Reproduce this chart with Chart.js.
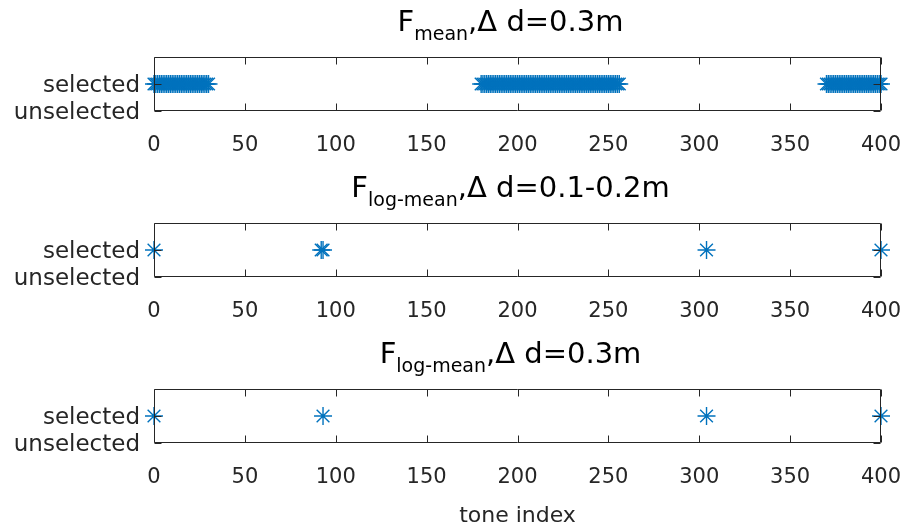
<!DOCTYPE html>
<html>
<head>
<meta charset="utf-8">
<script src="https://cdn.jsdelivr.net/npm/chart.js@4/dist/chart.umd.min.js"></script>
<style>
  html, body { margin: 0; padding: 0; background: #ffffff; }
  #wrap { position: relative; width: 907px; height: 529px; overflow: hidden; }
  #wrap canvas { position: absolute; left: 0; top: 0; }
</style>
</head>
<body>
<div id="wrap">
  <canvas id="panel1" width="907" height="529"></canvas>
  <canvas id="panel2" width="907" height="529"></canvas>
  <canvas id="panel3" width="907" height="529"></canvas>
</div>
<script>
// ---- data ----
const toneTicks = [0, 50, 100, 150, 200, 250, 300, 350, 400];
const selectionLabels = ['unselected', 'selected'];

// tone indices selected by F_mean, Δd = 0.3 m
const meanSelected = [
  0, 1, 2, 3, 4, 5, 6, 7, 8, 9, 10, 11, 12, 13, 14, 15, 16, 17, 18, 19, 20,
  21, 22, 23, 24, 25, 26, 27, 28, 29, 30,
  180, 181, 182, 183, 184, 185, 186, 187, 188, 189, 190, 191, 192, 193, 194,
  195, 196, 197, 198, 199, 200, 201, 202, 203, 204, 205, 206, 207, 208, 209,
  210, 211, 212, 213, 214, 215, 216, 217, 218, 219, 220, 221, 222, 223, 224,
  225, 226, 227, 228, 229, 230, 231, 232, 233, 234, 235, 236, 237, 238, 239,
  240, 241, 242, 243, 244, 245, 246, 247, 248, 249, 250, 251, 252, 253, 254,
  255, 256,
  370, 371, 372, 373, 374, 375, 376, 377, 378, 379, 380, 381, 382, 383, 384,
  385, 386, 387, 388, 389, 390, 391, 392, 393, 394, 395, 396, 397, 398, 399, 400
];
// tone indices selected by F_log-mean, Δd = 0.1-0.2 m
const logMeanNearSelected = [0, 92, 93, 304, 400];
// tone indices selected by F_log-mean, Δd = 0.3 m
const logMeanFarSelected = [0, 93, 304, 400];

const panelTitles = [
  { main: 'F', sub: 'mean', rest: ',\u0394 d=0.3m' },
  { main: 'F', sub: 'log-mean', rest: ',\u0394 d=0.1-0.2m' },
  { main: 'F', sub: 'log-mean', rest: ',\u0394 d=0.3m' }
];
const xAxisTitle = 'tone index';

// ---- style ----
const FONT = 'DejaVu Sans';
const AXIS_COLOR = '#262626';
const MARK_COLOR = '#0072BD';
const W = 907, H = 529;
const PLOT_LEFT = 154, PLOT_RIGHT = 881;
const TICK_LEN = 7;

// frame + inward ticks, drawn over the markers
const framePlugin = {
  id: 'frame',
  afterDatasetsDraw(chart) {
    const { ctx, chartArea: a, scales: { x, y } } = chart;
    const l = Math.round(a.left) + 0.5, r = Math.round(a.right) - 0.5;
    const t = Math.round(a.top) + 0.5, b = Math.round(a.bottom) - 0.5;
    ctx.save();
    ctx.strokeStyle = AXIS_COLOR;
    ctx.lineWidth = 1;
    ctx.beginPath();
    x.ticks.forEach(tk => {
      const px = Math.round(x.getPixelForValue(tk.value)) + 0.5;
      ctx.moveTo(px, b); ctx.lineTo(px, b - TICK_LEN);
      ctx.moveTo(px, t); ctx.lineTo(px, t + TICK_LEN);
    });
    y.ticks.forEach(tk => {
      const py = Math.round(y.getPixelForValue(tk.value)) + 0.5;
      ctx.moveTo(l, py); ctx.lineTo(l + TICK_LEN, py);
      ctx.moveTo(r, py); ctx.lineTo(r - TICK_LEN, py);
    });
    ctx.stroke();
    ctx.beginPath();
    ctx.rect(l, t, r - l, b - t);
    ctx.stroke();
    ctx.restore();
  }
};

// panel title with a subscript part
const subTitlePlugin = {
  id: 'subTitle',
  afterDraw(chart, args, opts) {
    const { ctx, chartArea: a } = chart;
    const tt = opts.text;
    if (!tt) return;
    const mainFont = '29px "' + FONT + '"';
    const subFont = '19px "' + FONT + '"';
    ctx.save();
    ctx.fillStyle = '#000000';
    ctx.textBaseline = 'alphabetic';
    ctx.textAlign = 'left';
    ctx.font = mainFont;
    const wMain = ctx.measureText(tt.main).width;
    const wRest = ctx.measureText(tt.rest).width;
    ctx.font = subFont;
    const wSub = ctx.measureText(tt.sub).width;
    const total = wMain + wSub + wRest;
    let x0 = (a.left + a.right) / 2 - total / 2 - 7;
    const base = a.top - 26;
    ctx.font = mainFont;
    ctx.fillText(tt.main, x0, base);
    ctx.font = subFont;
    ctx.fillText(tt.sub, x0 + wMain, base + 9);
    ctx.font = mainFont;
    ctx.fillText(tt.rest, x0 + wMain + wSub, base);
    if (opts.xTitle) {
      ctx.fillStyle = AXIS_COLOR;
      ctx.font = '22px "' + FONT + '"';
      ctx.textAlign = 'center';
      ctx.textBaseline = 'middle';
      ctx.fillText(opts.xTitle, (a.left + a.right) / 2, a.bottom + 73);
    }
    ctx.restore();
  }
};

function makePanel(id, indices, title, top, bottom, xTitle) {
  return new Chart(document.getElementById(id), {
    type: 'scatter',
    data: {
      datasets: [{
        data: indices.map(v => ({ x: v, y: 1 })),
        pointStyle: 'star',
        pointRadius: 9,
        pointBorderWidth: 1.4,
        borderColor: MARK_COLOR,
        backgroundColor: MARK_COLOR,
        showLine: false,
        clip: false
      }]
    },
    options: {
      responsive: false,
      animation: false,
      devicePixelRatio: 1,
      events: [],
      layout: { padding: { top: top, left: 0, right: W - PLOT_RIGHT, bottom: 0 } },
      plugins: {
        legend: { display: false },
        tooltip: { enabled: false },
        title: { display: false },
        subTitle: { text: title, xTitle: xTitle }
      },
      scales: {
        x: {
          type: 'linear',
          min: 0, max: 400,
          grid: { display: false },
          border: { display: false },
          afterBuildTicks: s => { s.ticks = toneTicks.map(v => ({ value: v })); },
          ticks: {
            autoSkip: false,
            maxRotation: 0,
            color: AXIS_COLOR,
            font: { family: FONT, size: 21 },
            padding: 14
          },
          afterFit: s => { s.height = H - bottom; s.paddingLeft = 0; s.paddingRight = 0; }
        },
        y: {
          type: 'linear',
          min: 0, max: 2,
          grid: { display: false },
          border: { display: false },
          afterBuildTicks: s => { s.ticks = selectionLabels.map((_, i) => ({ value: i })); },
          ticks: {
            autoSkip: false,
            color: AXIS_COLOR,
            font: { family: FONT, size: 23 },
            padding: 6,
            labelOffset: 2,
            callback: v => selectionLabels[v]
          },
          afterFit: s => { s.width = PLOT_LEFT; s.paddingTop = 0; s.paddingBottom = 0; }
        }
      }
    },
    plugins: [framePlugin, subTitlePlugin]
  });
}

makePanel('panel1', meanSelected, panelTitles[0], 57, 111, null);
makePanel('panel2', logMeanNearSelected, panelTitles[1], 223, 277, null);
makePanel('panel3', logMeanFarSelected, panelTitles[2], 389, 443, xAxisTitle);
</script>
</body>
</html>
